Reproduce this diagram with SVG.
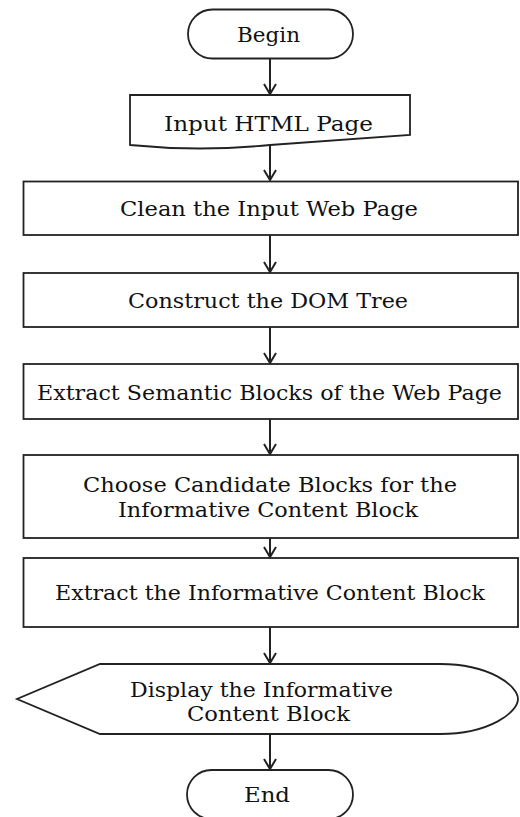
<svg xmlns="http://www.w3.org/2000/svg" width="520" height="817" viewBox="0 0 520 817">
<style>
.shape{fill:#ffffff;stroke:#222222;stroke-width:1.8}
.lbl{font-family:"DejaVu Serif","Liberation Serif",serif;font-size:20px;fill:#111111;text-anchor:middle}
.conn{stroke:#222222;stroke-width:2;fill:none}
</style>
<defs>
<marker id="arr" markerUnits="userSpaceOnUse" viewBox="-1 -7 13 14" refX="10" refY="0" markerWidth="13" markerHeight="14" orient="auto">
<path d="M0,-6 L10,0 L0,6" fill="none" stroke="#222222" stroke-width="2"/>
</marker>
</defs>
<rect width="520" height="817" fill="#ffffff"/>
<g id="connectors">
<line class="conn" x1="270" y1="58" x2="270" y2="94" marker-end="url(#arr)"/>
<line class="conn" x1="270" y1="145" x2="270" y2="180" marker-end="url(#arr)"/>
<line class="conn" x1="270" y1="235" x2="270" y2="272" marker-end="url(#arr)"/>
<line class="conn" x1="270" y1="327" x2="270" y2="363" marker-end="url(#arr)"/>
<line class="conn" x1="270" y1="419" x2="270" y2="454" marker-end="url(#arr)"/>
<line class="conn" x1="270" y1="538" x2="270" y2="557" marker-end="url(#arr)"/>
<line class="conn" x1="270" y1="627" x2="270" y2="663" marker-end="url(#arr)"/>
<line class="conn" x1="270" y1="734" x2="270" y2="769" marker-end="url(#arr)"/>
</g>
<g id="begin">
<rect class="shape" x="188" y="9.5" width="165" height="49" rx="24.5" ry="24.5"/>
<text class="lbl" x="268.5" y="41.5" textLength="63" lengthAdjust="spacingAndGlyphs">Begin</text>
</g>
<g id="input">
<path class="shape" d="M130,95 H410 V135 C370,138 320,141 270,145 C220,150 170,149 130,145 Z"/>
<text class="lbl" x="268.5" y="131" textLength="209" lengthAdjust="spacingAndGlyphs">Input HTML Page</text>
</g>
<g id="clean">
<rect class="shape" x="23.5" y="181.5" width="494.5" height="53.5"/>
<text class="lbl" x="269" y="216" textLength="298" lengthAdjust="spacingAndGlyphs">Clean the Input Web Page</text>
</g>
<g id="dom">
<rect class="shape" x="23.5" y="273" width="494.5" height="54"/>
<text class="lbl" x="268" y="308" textLength="280" lengthAdjust="spacingAndGlyphs">Construct the DOM Tree</text>
</g>
<g id="semantic">
<rect class="shape" x="23.5" y="364" width="494.5" height="55"/>
<text class="lbl" x="269.5" y="399.5" textLength="465" lengthAdjust="spacingAndGlyphs">Extract Semantic Blocks of the Web Page</text>
</g>
<g id="candidate">
<rect class="shape" x="23.5" y="455" width="494.5" height="83"/>
<text class="lbl" x="270" y="492" textLength="374" lengthAdjust="spacingAndGlyphs">Choose Candidate Blocks for the</text>
<text class="lbl" x="268" y="517" textLength="300" lengthAdjust="spacingAndGlyphs">Informative Content Block</text>
</g>
<g id="extract">
<rect class="shape" x="23.5" y="558" width="494.5" height="69"/>
<text class="lbl" x="270" y="600" textLength="430" lengthAdjust="spacingAndGlyphs">Extract the Informative Content Block</text>
</g>
<g id="display">
<path class="shape" d="M100,664 H440 C490,664 518,686 518,699 C518,712 490,734 440,734 H100 L17,699 Z"/>
<text class="lbl" x="261.5" y="697" textLength="263" lengthAdjust="spacingAndGlyphs">Display the Informative</text>
<text class="lbl" x="268.5" y="721" textLength="163" lengthAdjust="spacingAndGlyphs">Content Block</text>
</g>
<g id="end">
<rect class="shape" x="187" y="770" width="166" height="49" rx="24.5" ry="24.5"/>
<text class="lbl" x="267" y="801.5" textLength="46" lengthAdjust="spacingAndGlyphs">End</text>
</g>
</svg>
